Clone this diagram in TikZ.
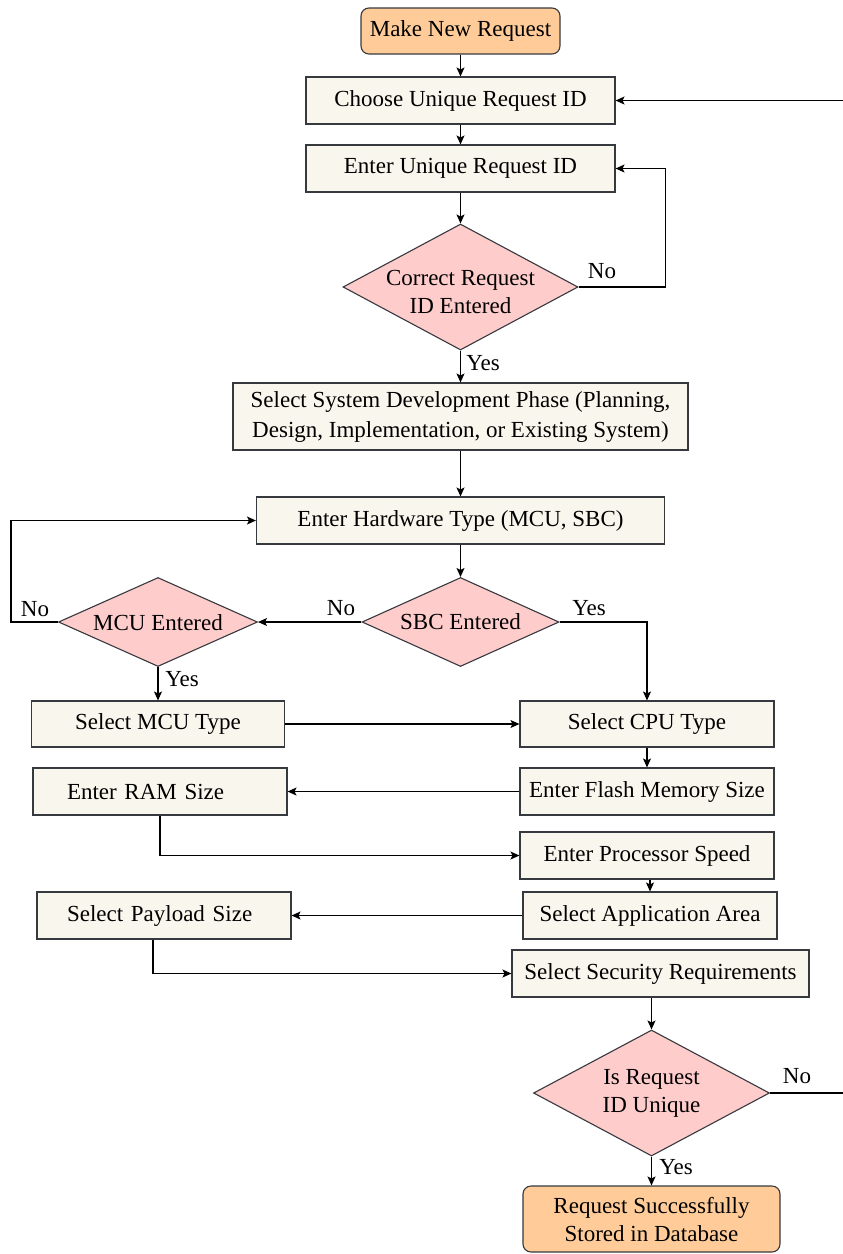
\documentclass[tikz,border=0pt]{standalone}
\usepackage{fontspec}
\setmainfont{Liberation Serif}
\usetikzlibrary{shapes.geometric,arrows.meta}
\definecolor{startfill}{HTML}{FFCC99}
\definecolor{boxfill}{HTML}{F9F7ED}
\definecolor{decfill}{HTML}{FFCCCC}
\definecolor{edgegray}{HTML}{36393D}
\begin{document}
\begin{tikzpicture}[x=1pt,y=-1pt,
  font=\fontsize{23}{28}\selectfont,
  procbox/.style={draw=edgegray, fill=boxfill, line width=1.1pt, minimum height=47pt, inner sep=2pt, align=center},
  termbox/.style={draw=edgegray, fill=startfill, line width=1.1pt, rounded corners=8pt, inner sep=2pt, align=center},
  decbox/.style={diamond, draw=edgegray, fill=decfill, line width=1.1pt, inner sep=0pt},
  flow/.style={-{Stealth[length=9pt,width=8pt,inset=2pt]}, line width=1.1pt, black},
  plainline/.style={line width=1.1pt, black},
  lbl/.style={inner sep=0pt}
]
\useasboundingbox (0,0) rectangle (843,1254);

% nodes
\node[termbox, minimum width=199pt, minimum height=46pt] (start) at (460.5,31) {Make New Request};
\node[procbox, minimum width=309pt] (choose) at (460.5,100.5) {Choose Unique Request ID};
\node[procbox, minimum width=309pt] (enter) at (460.5,168.5) {Enter Unique Request ID};
\node[decbox, minimum width=235pt, minimum height=126pt,
  label={[align=center,yshift=-5pt]center:Correct Request\\ID Entered}] (correct) at (460.5,287) {};
\node[procbox, minimum width=455pt, minimum height=67pt] (phase) at (460.5,416.5)
  {Select System Development Phase (Planning,\\[2pt]Design, Implementation, or Existing System)};
\node[procbox, minimum width=408pt] (hw) at (460.5,520.5) {Enter Hardware Type (MCU, SBC)};
\node[decbox, minimum width=197pt, minimum height=89pt, label={center:SBC Entered}] (sbc) at (460.5,622) {};
\node[decbox, minimum width=199pt, minimum height=89pt, label={[yshift=-1pt]center:MCU Entered}] (mcu) at (158,622) {};
\node[procbox, minimum width=253pt, minimum height=46pt] (mcutype) at (158,724) {Select MCU Type};
\node[procbox, minimum width=254pt, minimum height=46pt] (cputype) at (647,724) {Select CPU Type};
\node[procbox, minimum width=254pt] (flash) at (647,791.5) {Enter Flash Memory Size};
\node[procbox, minimum width=254pt, text width=186pt, align=left] (ram) at (160,791.5) {Enter RAM Size};
\node[procbox, minimum width=254pt] (speed) at (647,855.5) {Enter Processor Speed};
\node[procbox, minimum width=254pt] (app) at (650,915.5) {Select Application Area};
\node[procbox, minimum width=254pt, text width=194pt, align=left] (payload) at (164,915.5) {Select Payload Size};
\node[procbox, minimum width=297pt] (sec) at (660.5,973.5) {Select Security Requirements};
\node[decbox, minimum width=236pt, minimum height=126pt,
  label={[align=center]center:Is Request\\ID Unique}] (uniq) at (651.5,1093) {};
\node[termbox, minimum width=257pt, minimum height=66pt] (done) at (651.5,1219) {Request Successfully\\Stored in Database};

\coordinate (rightin) at (843,100.5);
\coordinate (rightout) at (843,1093);

% connectors
\draw[flow] (start) -- (choose);
\draw[flow] (choose) -- (enter);
\draw[flow] (enter) -- (correct);
\draw[flow] (correct.east) -- ++(87,0) |- (enter.east);
\draw[flow] (correct) -- (phase);
\draw[flow] (phase) -- (hw);
\draw[flow] (hw) -- (sbc);
\draw[flow] (sbc.west) -- (mcu.east);
\draw[flow] (mcu.west) -- ++(-47,0) |- (hw.west);
\draw[flow] (mcu) -- (mcutype);
\draw[flow] (sbc.east) -| (cputype.north);
\draw[flow] (mcutype) -- (cputype);
\draw[flow] (cputype) -- (flash);
\draw[flow] (flash) -- (ram);
\draw[flow] (ram.south) |- (speed.west);
\draw[flow] (app |- speed.south) -- (app.north);
\draw[flow] (app) -- (payload);
\draw[flow] ([xshift=-11pt]payload.south) |- (sec.west);
\draw[flow] (uniq |- sec.south) -- (uniq.north);
\draw[flow] (uniq) -- (done);
\draw[plainline] (uniq.east) -- (rightout);
\draw[flow] (rightin) -- (choose.east);

% labels
\node[lbl] (noA) at (602,271) {No};
\node[lbl] (yesA) at (483,363) {Yes};
\node[lbl] (noB) at (341,608) {No};
\node[lbl] (yesB) at (589,608) {Yes};
\node[lbl] (noC) at (35,609) {No};
\node[lbl] (yesC) at (182,679) {Yes};
\node[lbl] (noD) at (797,1076) {No};
\node[lbl] (yesD) at (676,1167) {Yes};
\end{tikzpicture}
\end{document}
